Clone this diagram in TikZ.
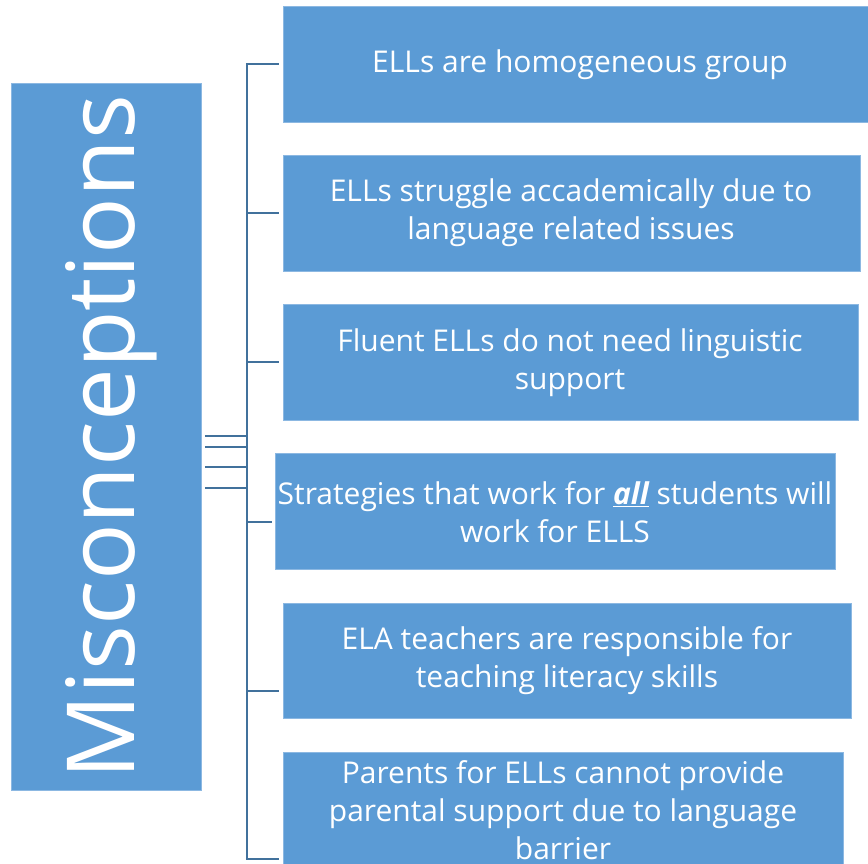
\documentclass[tikz,border=0pt]{standalone}
\usepackage{fontspec}
\setmainfont{Open Sans}
\usepackage{xcolor}
\definecolor{boxblue}{HTML}{5B9BD5}
\definecolor{boxedge}{HTML}{8CB8E2}
\definecolor{linkblue}{HTML}{41719C}
\begin{document}
\begin{tikzpicture}[x=1pt,y=-1pt,
  box/.style={fill=boxblue, draw=boxedge, line width=0.8pt, anchor=north west, inner sep=0pt},
  label/.style={text=white, align=center, inner sep=0pt, font=\fontsize{30}{38}\selectfont},
  link/.style={draw=linkblue, line width=2.4pt},
]
\useasboundingbox (0,0) rectangle (868,863);
\node[box, minimum width=190pt, minimum height=707pt] (left) at (11,83) {};
\node[rotate=90, text=white, font=\fontsize{94}{100}\selectfont, inner sep=0pt] (title) at (111,437) {Misconceptions};

\node[box, minimum width=585pt, minimum height=116pt] (b1) at (283,6) {};
\node[label] (t1) at (580,65) {ELLs are homogeneous group};
\node[box, minimum width=577pt, minimum height=116pt] (b2) at (283,155) {};
\node[label] (t2) at (571,213) {ELLs struggle accademically due to\\language related issues};
\node[box, minimum width=575pt, minimum height=116pt] (b3) at (283,304) {};
\node[label] (t3) at (570,363) {Fluent ELLs do not need linguistic\\support};
\node[box, minimum width=560pt, minimum height=116pt] (b4) at (275,453) {};
\node[label] (t4) at (555,512) {Strategies that work for \textbf{\textit{\underline{all}}} students will\\work for ELLS};
\node[box, minimum width=568pt, minimum height=115pt] (b5) at (283,603) {};
\node[label] (t5) at (567,661) {ELA teachers are responsible for\\teaching literacy skills};
\node[box, minimum width=560pt, minimum height=118pt] (b6) at (283,752) {};
\node[label] (t6) at (563,810) {Parents for ELLs cannot provide\\parental support due to language\\barrier};

\coordinate (top) at (247,64);
\coordinate (bot) at (247,859);
\draw[link] (top) -- (bot);
\coordinate (s2) at (247,213);
\coordinate (s3) at (247,362);
\coordinate (s4) at (247,522);
\coordinate (s5) at (247,691);
\draw[link, shorten >=4pt] ([xshift=-1.2pt]top) -- (top -| b1.west);
\draw[link, shorten >=4pt] (s2) -- (s2 -| b2.west);
\draw[link, shorten >=4pt] (s3) -- (s3 -| b3.west);
\draw[link, shorten >=3pt] (s4) -- (s4 -| b4.west);
\draw[link, shorten >=4pt] (s5) -- (s5 -| b5.west);
\draw[link, shorten >=4pt] ([xshift=-1.2pt]bot) -- (bot -| b6.west);

\foreach \y/\n in {436/a,447/b,467/c,488/d}{
  \coordinate (l\n) at (247,\y);
  \draw[link, shorten <=3pt] (l\n -| left.east) -- (l\n);
}
\end{tikzpicture}
\end{document}
